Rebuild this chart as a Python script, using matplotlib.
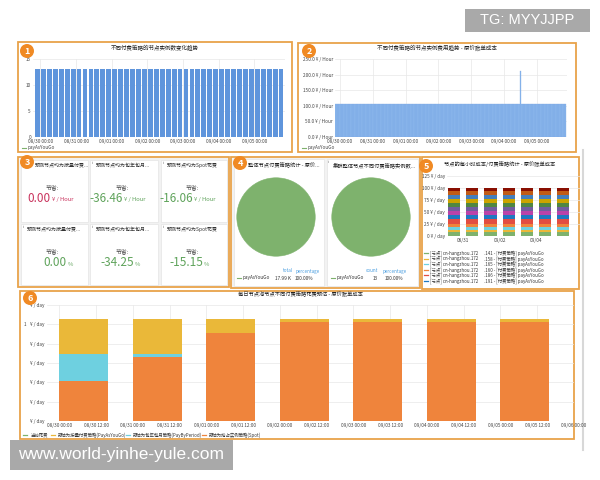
import numpy as np
import pandas as pd
import matplotlib
matplotlib.use('Agg')
import matplotlib.pyplot as plt
import matplotlib.dates as mdates
from matplotlib.patches import Rectangle, Circle

plt.rcParams['font.family'] = ['Noto Sans CJK SC', 'DejaVu Sans']

W, H = 600, 480

# ---- data ----
# panel 1: node instance count, one bar every 4 hours
count_times = pd.date_range('2023-08-29 22:00', periods=42, freq='4h')
count_values = [13, 13, 13, 13, 13, 13, 13, 13, 13, 13, 13, 13, 13, 13,
                13, 13, 13, 13, 13, 13, 13, 13, 13, 13, 13, 13, 13, 13,
                13, 13, 13, 13, 13, 13, 13, 13, 13, 13, 13, 13, 13, 13]

# panel 2: hourly instance cost (one spike on 09/04 12:00)
cost_times = pd.date_range('2023-08-29 21:00', periods=169, freq='h')
cost_values = [105.0] * 135 + [210.0] + [105.0] * 33

# panel 3: savings cards
card_titles = ['预测节点均为按量付费...', '预测节点均为包年包月...', '预测节点均为Spot花费']
saving_hour = ['0.00', '-36.46', '-16.06']
saving_pct = ['0.00', '-34.25', '-15.15']

# panel 4: pies
pie_total = [17.99]      # K
pie_count = [13]

# panel 5: daily cost per node (13 nodes, stacked)
node_days = pd.date_range('2023-08-30 12:00', periods=7, freq='D')
node_costs = [9, 3, 6, 8, 9, 8, 9, 8, 9, 9, 8, 7, 7]
node_suffix = ['.141', '.158', '.165', '.160', '.186', '.191']

# panel 6: daily estimate per strategy
est_days = pd.date_range('2023-08-30 00:00', periods=7, freq='D')
est_spot = [2.08, 3.31, 4.55, 5.10, 5.10, 5.10, 5.10]
est_period = [1.39, 0.16, 0.0, 0.0, 0.0, 0.0, 0.0]
est_payg = [1.81, 1.81, 0.73, 0.18, 0.18, 0.18, 0.18]
est_labels = ['当前花费', '预估为按量付费策略(PayAsYouGo)',
              '预估为包年包月策略(PayByPeriod)', '预估为抢占实例策略(Spot)']

palette = ['#7EB26D', '#EAB839', '#6ED0E0', '#EF843C', '#E24D42', '#1F78C1',
           '#BA43A9', '#705DA0', '#508642', '#CCA300', '#447EBC', '#C15C17',
           '#890F02']
ORANGE = '#e8a24a'
GRID = '#e8e8e8'


def rect(x0, y0, x1, y1):
    return [x0 / W, 1 - y1 / H, (x1 - x0) / W, (y1 - y0) / H]


def style(ax, fs=3.4):
    for s in ax.spines.values():
        s.set_visible(False)
    ax.tick_params(length=0, labelsize=fs, colors='#444444', pad=1.5)
    ax.grid(True, color=GRID, lw=0.5)
    ax.set_axisbelow(True)
    ax.patch.set_alpha(0)


fig = plt.figure(figsize=(6, 4.8), dpi=100)

bg = fig.add_axes([0, 0, 1, 1], zorder=-5)
bg.set_xlim(0, W); bg.set_ylim(H, 0); bg.axis('off')
top = fig.add_axes([0, 0, 1, 1], zorder=20, label='top')
top.set_xlim(0, W); top.set_ylim(H, 0); top.axis('off')

# panel frames
frames = [(18, 42, 292, 152), (298, 43, 576, 152), (18, 157, 229, 287),
          (231, 157, 420, 288), (422, 157, 579, 289), (20, 291, 574, 439)]
for x0, y0, x1, y1 in frames:
    bg.add_patch(Rectangle((x0, y0), x1 - x0, y1 - y0, fill=False, ec=ORANGE, lw=1.3))
bg.plot([583, 583], [150, 450], color='#d8d8d8', lw=1.5)

# ---- panel 1 ----
ax1 = fig.add_axes(rect(33, 59, 285, 137))
ax1.bar(count_times, count_values, width=0.135, color='#5f95dc', align='center')
ax1.set_ylim(0, 15)
ax1.set_yticks([0, 5, 10, 15])
ax1.set_xlim(pd.Timestamp('2023-08-29 19:00'), pd.Timestamp('2023-09-05 20:40'))
ax1.xaxis.set_major_locator(mdates.DayLocator())
ax1.xaxis.set_major_formatter(mdates.DateFormatter('%m/%d %H:%M'))
style(ax1)
top.text(155, 48, '不同付费策略的节点实例数变化趋势', fontsize=4, ha='center', va='center', color='#222222')
top.plot([22, 26], [148, 148], color=palette[0], lw=0.8)
top.text(28, 148, 'payAsYouGo', fontsize=3.4, va='center', color='#444444')

# ---- panel 2 ----
ax2 = fig.add_axes(rect(335, 59, 567, 137))
ax2.bar(cost_times, cost_values, width=1 / 24, color='#8ab6ec', edgecolor='#78a6e2', lw=0.2)
ax2.set_ylim(0, 250)
ax2.set_yticks([0, 50, 100, 150, 200, 250])
ax2.set_yticklabels(['%.1f ¥ / Hour' % v for v in [0, 50, 100, 150, 200, 250]])
ax2.set_xlim(pd.Timestamp('2023-08-29 20:20'), pd.Timestamp('2023-09-05 22:00'))
ax2.xaxis.set_major_locator(mdates.DayLocator())
ax2.xaxis.set_major_formatter(mdates.DateFormatter('%m/%d %H:%M'))
style(ax2)
top.text(437, 48, '不同付费策略的节点实例费用趋势 - 原价账单成本', fontsize=4, ha='center', va='center', color='#222222')
top.plot([302, 306], [148, 148], color=palette[0], lw=0.8)
top.text(308, 148, 'payAsYouGo', fontsize=3.4, va='center', color='#444444')

# ---- panel 3 ----
bg.add_patch(Rectangle((19, 158), 209, 128, fc='#f2f2f2', ec='none'))
cols = [(21, 88), (90, 158), (161, 227)]
rows = [(160, 222), (224, 285)]
split_hour = [51, 123, 193]
split_pct = [67, 134, 203]
for r, (y0, y1) in enumerate(rows):
    for c, (x0, x1) in enumerate(cols):
        bg.add_patch(Rectangle((x0, y0), x1 - x0, y1 - y0, fc='white', ec='#e4e4e4', lw=0.5))
        tx = x0 + 6
        if r == 0 and c == 0:
            tx = 35  # badge sits on the corner of the first card
        else:
            top.text(x0 + 1.5, y0 + 3, 'i', fontsize=3, color='#666666', va='center')
        top.text(tx, y0 + 5, card_titles[c], fontsize=3.6, color='#333333', va='center')
        cx = (x0 + x1) / 2 - 2
        top.text(cx, y0 + 27, '节省:', fontsize=4.2, ha='center', va='center', color='#444444')
        if r == 0:
            col = '#c9335d' if c == 0 else '#5fa35b'
            top.text(split_hour[c], y0 + 38, saving_hour[c], fontsize=8.5, ha='right', va='center', color=col)
            top.text(split_hour[c] + 1.5, y0 + 39, '¥ / Hour', fontsize=4.2, ha='left', va='center', color=col)
        else:
            col = '#5fa35b'
            top.text(split_pct[c], y0 + 39, saving_pct[c], fontsize=8.5, ha='right', va='center', color=col)
            top.text(split_pct[c] + 0.5, y0 + 40, '%', fontsize=4.2, ha='left', va='center', color=col)

# ---- panel 4 ----
bg.add_patch(Rectangle((232, 158), 187, 129, fc='#f2f2f2', ec='none'))
bg.add_patch(Rectangle((234, 159), 90, 127, fc='white', ec='#e4e4e4', lw=0.5))
bg.add_patch(Rectangle((327, 159), 91, 127, fc='white', ec='#e4e4e4', lw=0.5))
top.text(248, 165, '整体节点付费策略统计 - 原价...', fontsize=3.8, va='center', color='#222222')
top.text(328, 162, 'i', fontsize=3, va='center', color='#666666')
top.text(333, 165, '集群整体节点不同付费策略实例数...', fontsize=3.8, va='center', color='#222222')
for cx, vals in [(276, pie_total), (371, pie_count)]:
    pa = fig.add_axes(rect(cx - 40, 177, cx + 40, 257))
    pa.pie(vals, colors=['#7EB26D'], radius=1, wedgeprops=dict(ec='#7EB26D', lw=0.4))
    pa.set_xlim(-1.02, 1.02); pa.set_ylim(-1.02, 1.02)
    pa.set_aspect('equal')
top.text(283, 271, 'total', fontsize=3.3, color='#4a9ee0', va='center')
top.text(296, 271, 'percentage', fontsize=3.3, color='#4a9ee0', va='center')
top.plot([237, 241], [278, 278], color=palette[0], lw=0.8)
top.text(243, 278, 'payAsYouGo', fontsize=3.4, va='center', color='#333333')
top.text(291, 278, '%.2f K' % pie_total[0], fontsize=3.4, va='center', ha='right', color='#333333')
top.text(313, 278, '100.00%', fontsize=3.4, va='center', ha='right', color='#333333')
top.text(366, 271, 'count', fontsize=3.3, color='#4a9ee0', va='center')
top.text(383, 271, 'percentage', fontsize=3.3, color='#4a9ee0', va='center')
top.plot([331, 335], [278, 278], color=palette[0], lw=0.8)
top.text(337, 278, 'payAsYouGo', fontsize=3.4, va='center', color='#333333')
top.text(378, 278, '%d' % pie_count[0], fontsize=3.4, va='center', ha='right', color='#333333')
top.text(403, 278, '100.00%', fontsize=3.4, va='center', ha='right', color='#333333')

# ---- panel 5 ----
ax5 = fig.add_axes(rect(447, 176, 580, 236))
bottom = np.zeros(len(node_days))
for i, v in enumerate(node_costs):
    ax5.bar(node_days, [v] * len(node_days), width=0.67, bottom=bottom, color=palette[i])
    bottom += v
ax5.set_ylim(0, 125)
ax5.set_yticks([0, 25, 50, 75, 100, 125])
ax5.set_yticklabels(['%d ¥ / day' % v for v in [0, 25, 50, 75, 100, 125]])
ax5.set_xlim(pd.Timestamp('2023-08-30 02:40'), pd.Timestamp('2023-09-06 10:00'))
ax5.set_xticks(pd.to_datetime(['2023-08-31', '2023-09-02', '2023-09-04']))
ax5.xaxis.set_major_formatter(mdates.DateFormatter('%m/%d'))
style(ax5)
ax5.grid(False, axis='x')
top.text(500, 164, '节点的每小时成本/付费策略统计 - 原价账单成本', fontsize=3.8, ha='center', va='center', color='#222222')
for i, suf in enumerate(node_suffix):
    yy = 253 + 5.6 * i
    top.plot([424, 428], [yy, yy], color=palette[i], lw=0.9)
    top.text(430, yy, '[节点] cn-hangzhou.172', fontsize=3.2, va='center', color='#333333')
    top.text(484, yy, suf + ' - [付费策略] payAsYouGo', fontsize=3.2, va='center', color='#333333')

# ---- panel 6 ----
ax6 = fig.add_axes(rect(47, 305, 574, 421))
ax6.bar(est_days, est_spot, width=2 / 3, align='edge', color='#EF843C')
ax6.bar(est_days, est_period, width=2 / 3, align='edge', bottom=est_spot, color='#6ED0E0')
ax6.bar(est_days, est_payg, width=2 / 3, align='edge',
        bottom=np.array(est_spot) + np.array(est_period), color='#EAB839')
ax6.set_ylim(0, 6)
ax6.set_yticks(range(7))
ax6.set_yticklabels(['¥ / day'] * 7)
ax6.set_xlim(pd.Timestamp('2023-08-29 20:00'), pd.Timestamp('2023-09-06 00:00'))
ax6.xaxis.set_major_locator(mdates.HourLocator(byhour=[0, 12]))
ax6.xaxis.set_major_formatter(mdates.DateFormatter('%m/%d %H:%M'))
style(ax6)
top.text(24, 324, '1', fontsize=3.4, va='center', color='#444444')
top.text(300, 294, '每日节点池节点不同付费策略花费预估 - 原价账单成本', fontsize=3.8, ha='center', va='center', color='#222222')
leg_x = [25, 53, 128, 204]
leg_c = ['#7EB26D', '#EAB839', '#6ED0E0', '#EF843C']
for x, c, lab in zip(leg_x, leg_c, est_labels):
    top.plot([x - 2, x + 2], [435, 435], color=c, lw=0.9)
    top.text(x + 5, 435, lab, fontsize=3.2, va='center', color='#333333')

# badges
for n, (bx, by) in enumerate([(27, 51), (309, 51), (27, 162), (240, 163), (426, 166), (30, 298)], 1):
    top.add_patch(Circle((bx, by), 7, fc='#f08a24', ec='none'))
    top.text(bx, by + 0.5, str(n), color='white', fontsize=6.5, ha='center', va='center', weight='bold')

# watermarks
top.add_patch(Rectangle((465, 9), 125, 23, fc='#a9a9a9', ec='none'))
top.text(527, 20.5, 'TG: MYYJJPP', color='white', fontsize=10.5, ha='center', va='center',
         family=['Liberation Sans', 'DejaVu Sans'])
top.add_patch(Rectangle((10, 440), 223, 30, fc='#a9a9a9', ec='none'))
top.text(121, 455, 'www.world-yinhe-yule.com', color='white', fontsize=12.5, ha='center', va='center',
         family=['Liberation Sans', 'DejaVu Sans'])

fig.savefig('out.png', dpi=100)
